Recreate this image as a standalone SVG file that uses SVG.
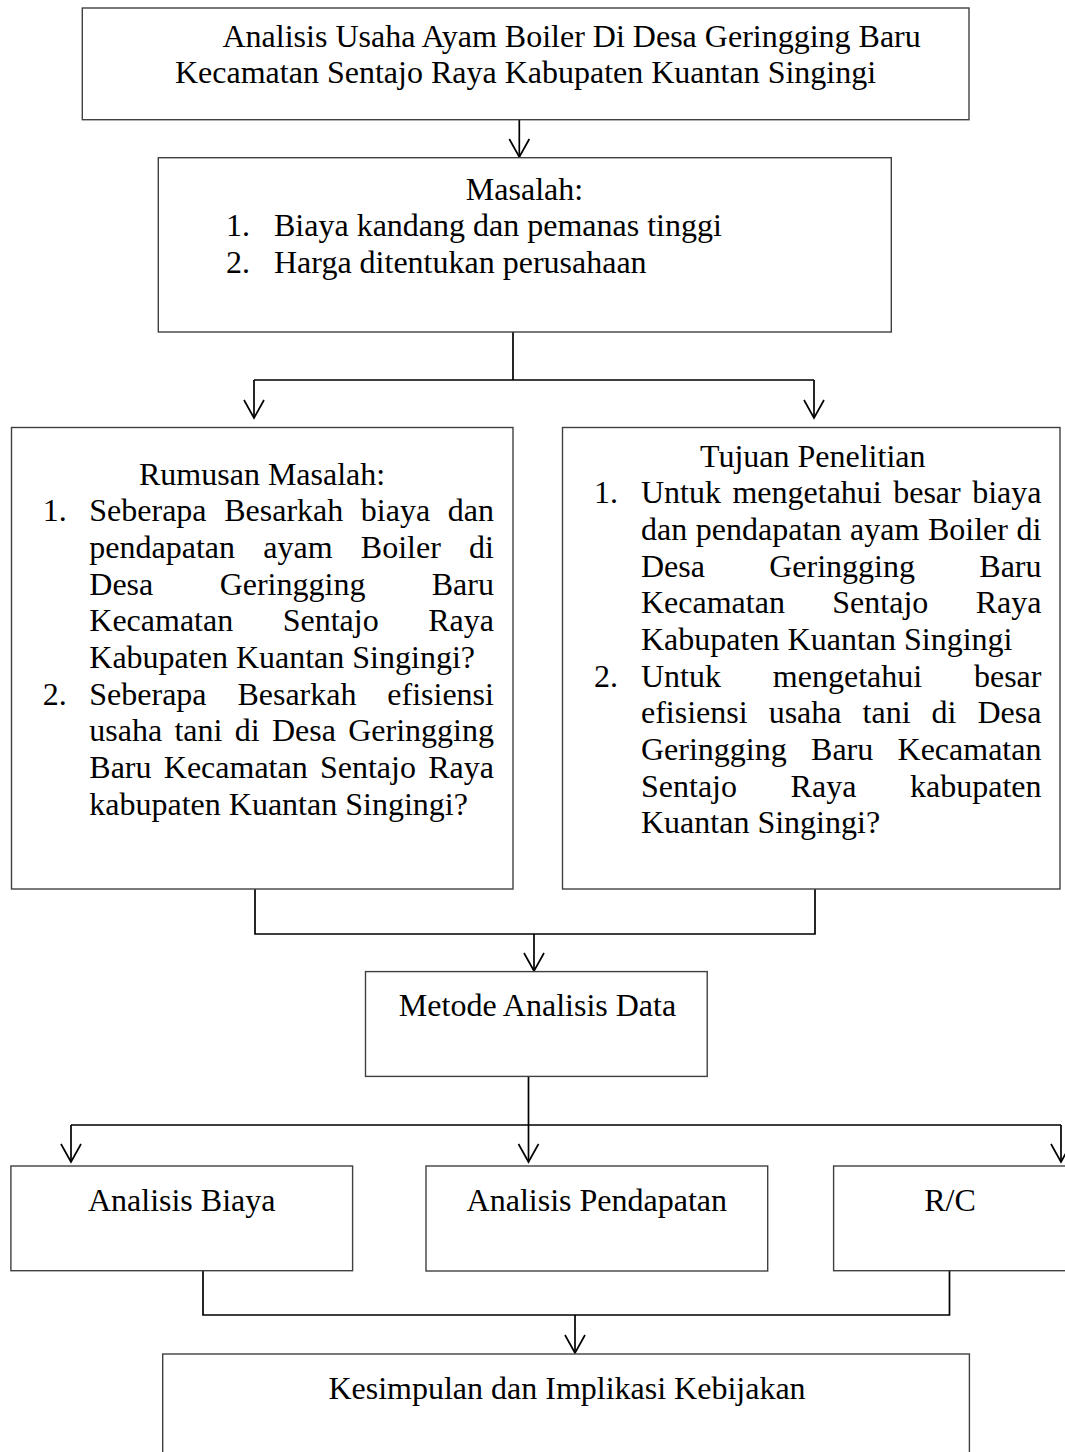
<svg xmlns="http://www.w3.org/2000/svg" width="1065" height="1452" viewBox="0 0 1065 1452">
<style>
.box{fill:#fff;stroke:#404040;stroke-width:1.4}
.t{font-family:"Liberation Serif","Times New Roman",serif;font-size:32px;fill:#000;font-variant-ligatures:none}
.m{text-anchor:middle}
.c{fill:none;stroke:#000;stroke-width:1.7}
</style>
<defs>
<marker id="arr" viewBox="-20 -12 24 24" refX="0" refY="0" markerWidth="24" markerHeight="24" orient="auto" markerUnits="userSpaceOnUse">
<path d="M-18,-10 L0,0 L-18,10" fill="none" stroke="#000" stroke-width="1.7"/>
</marker>
</defs>
<rect width="1065" height="1452" fill="#fff"/>

<g id="connectors">
<path class="c" d="M519.3,120 V157" marker-end="url(#arr)"/>
<path class="c" d="M513,332 V380 M254,380 H814"/>
<path class="c" d="M254,380 V418" marker-end="url(#arr)"/>
<path class="c" d="M814,380 V418" marker-end="url(#arr)"/>
<path class="c" d="M255,889 V934 H815 V889"/>
<path class="c" d="M534,934 V971" marker-end="url(#arr)"/>
<path class="c" d="M528.5,1076 V1125 M71,1125 H1061"/>
<path class="c" d="M71,1125 V1162" marker-end="url(#arr)"/>
<path class="c" d="M528.5,1125 V1162" marker-end="url(#arr)"/>
<path class="c" d="M1061,1125 V1162" marker-end="url(#arr)"/>
<path class="c" d="M203,1271 V1315 H949.5 V1271"/>
<path class="c" d="M575,1315 V1353" marker-end="url(#arr)"/>
</g>

<g id="judul">
<rect class="box" x="82.3" y="8" width="886.7" height="111.7"/>
<text class="t" x="222.5" y="46.7">Analisis Usaha Ayam Boiler Di Desa Geringging Baru</text>
<text class="t" x="175" y="83.3">Kecamatan Sentajo Raya Kabupaten Kuantan Singingi</text>
</g>

<g id="masalah">
<rect class="box" x="158.3" y="157.7" width="733" height="174.3"/>
<text class="t m" x="524.5" y="199.5">Masalah:</text>
<text class="t" x="226" y="236.3">1.</text>
<text class="t" x="274" y="236.3">Biaya kandang dan pemanas tinggi</text>
<text class="t" x="226" y="273">2.</text>
<text class="t" x="274" y="273">Harga ditentukan perusahaan</text>
</g>

<g id="rumusan">
<rect class="box" x="11.5" y="427.5" width="501.5" height="461.5"/>
<text class="t" x="139" y="484.6">Rumusan Masalah:</text>
<text class="t" x="42.7" y="521.3">1.</text>
<text class="t" x="89.3" y="521.3" word-spacing="9.61">Seberapa Besarkah biaya dan</text>
<text class="t" x="89.3" y="558" word-spacing="20.26">pendapatan ayam Boiler di</text>
<text class="t" x="89.3" y="594.7" word-spacing="58.38">Desa Geringging Baru</text>
<text class="t" x="89.3" y="631.3" word-spacing="41.5">Kecamatan Sentajo Raya</text>
<text class="t" x="89.3" y="668">Kabupaten Kuantan Singingi?</text>
<text class="t" x="42.7" y="704.7">2.</text>
<text class="t" x="89.3" y="704.7" word-spacing="22.85">Seberapa Besarkah efisiensi</text>
<text class="t" x="89.3" y="741.3" word-spacing="4.3">usaha tani di Desa Geringging</text>
<text class="t" x="89.3" y="778" word-spacing="4.27">Baru Kecamatan Sentajo Raya</text>
<text class="t" x="89.3" y="814.7">kabupaten Kuantan Singingi?</text>
</g>

<g id="tujuan">
<rect class="box" x="562.5" y="427.5" width="497.5" height="461.5"/>
<text class="t" x="700" y="466.7">Tujuan Penelitian</text>
<text class="t" x="594" y="503.3">1.</text>
<text class="t" x="641" y="503.3" word-spacing="3.46">Untuk mengetahui besar biaya</text>
<text class="t" x="641" y="540" word-spacing="0.59">dan pendapatan ayam Boiler di</text>
<text class="t" x="641" y="576.7" word-spacing="56.29">Desa Geringging Baru</text>
<text class="t" x="641" y="613.3" word-spacing="39.41">Kecamatan Sentajo Raya</text>
<text class="t" x="641" y="650">Kabupaten Kuantan Singingi</text>
<text class="t" x="594" y="686.7">2.</text>
<text class="t" x="641" y="686.7" word-spacing="43.84">Untuk mengetahui besar</text>
<text class="t" x="641" y="723.3" word-spacing="13.03">efisiensi usaha tani di Desa</text>
<text class="t" x="641" y="760" word-spacing="16.3">Geringging Baru Kecamatan</text>
<text class="t" x="641" y="796.7" word-spacing="45.62">Sentajo Raya kabupaten</text>
<text class="t" x="641" y="833.3">Kuantan Singingi?</text>
</g>

<g id="metode">
<rect class="box" x="365.5" y="971.6" width="341.7" height="104.8"/>
<text class="t m" x="537.5" y="1015.5">Metode Analisis Data</text>
</g>

<g id="biaya">
<rect class="box" x="10.9" y="1166" width="341.7" height="104.7"/>
<text class="t m" x="181.7" y="1210.5">Analisis Biaya</text>
</g>

<g id="pendapatan">
<rect class="box" x="426" y="1166" width="341.7" height="105"/>
<text class="t m" x="596.8" y="1210.5">Analisis Pendapatan</text>
</g>

<g id="rc">
<rect class="box" x="833.6" y="1166" width="245" height="104.7"/>
<text class="t m" x="950" y="1211">R/C</text>
</g>

<g id="kesimpulan">
<rect class="box" x="162.7" y="1354" width="806.7" height="110"/>
<text class="t m" x="567" y="1399">Kesimpulan dan Implikasi Kebijakan</text>
</g>
</svg>
